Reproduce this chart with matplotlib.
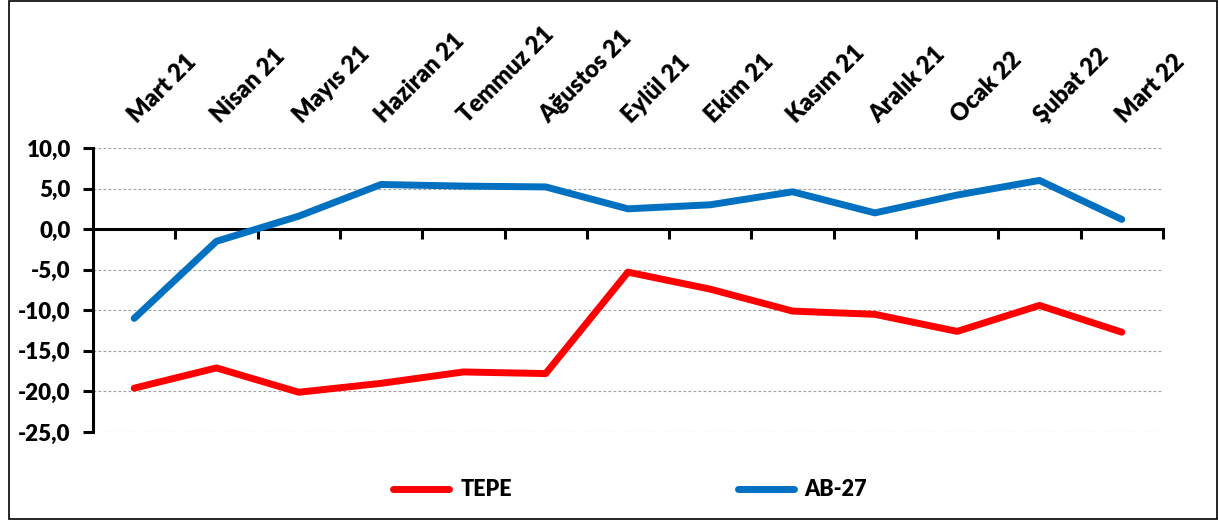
import matplotlib.pyplot as plt
from matplotlib.ticker import FuncFormatter, FixedLocator
from matplotlib.patches import Rectangle

plt.rcParams['font.family'] = ['Lato', 'DejaVu Sans']
plt.rcParams['font.weight'] = 'heavy'

months = ["Mart 21", "Nisan 21", "Mayıs 21", "Haziran 21", "Temmuz 21", "Ağustos 21",
          "Eylül 21", "Ekim 21", "Kasım 21", "Aralık 21", "Ocak 22", "Şubat 22", "Mart 22"]
tepe = [-19.6, -17.1, -20.1, -19.0, -17.6, -17.8, -5.3, -7.4, -10.1, -10.5, -12.6, -9.4, -12.7]
ab27 = [-11.0, -1.5, 1.6, 5.5, 5.3, 5.2, 2.5, 3.0, 4.6, 2.0, 4.2, 6.0, 1.2]

fig = plt.figure(figsize=(12.19, 5.21), dpi=100)
ax = fig.add_axes([0.0763, 0.1708, 0.954 - 0.0763, 0.716 - 0.1708])

x = list(range(len(months)))
ax.plot(x, tepe, color='#FF0000', lw=5, solid_capstyle='round', label='TEPE', zorder=3)
ax.plot(x, ab27, color='#0070C0', lw=5, solid_capstyle='round', label='AB-27', zorder=3)

ax.set_xlim(-0.5, len(months) - 0.5)
ax.set_ylim(-25, 10)
ax.set_yticks(range(-25, 11, 5))
ax.yaxis.set_major_formatter(FuncFormatter(lambda v, p: f"{v:.1f}".replace('.', ',')))
ax.tick_params(axis='y', direction='out', length=7, width=2.2, labelsize=16, pad=9)

ax.xaxis.set_major_locator(FixedLocator([i - 0.5 for i in range(len(months) + 1)]))
ax.set_xticklabels([])
ax.tick_params(axis='x', direction='out', length=7, width=2.2)

ax.spines['bottom'].set_position(('data', 0))
ax.spines['bottom'].set_linewidth(2.2)
ax.spines['left'].set_linewidth(2.2)
ax.spines['top'].set_visible(False)
ax.spines['right'].set_visible(False)
ax.yaxis.grid(True, linestyle=(0, (2.5, 2)), color='#a0a0a0', lw=0.8)

for i, m in enumerate(months):
    ax.text(i + 0.04, 1.085, m, transform=ax.get_xaxis_transform(), rotation=45,
            rotation_mode='anchor', ha='left', va='baseline', fontsize=17, fontweight='heavy')

fig.legend(loc='center', bbox_to_anchor=(0.517, 0.06), ncol=2, frameon=False,
           fontsize=15.5, handlelength=2.6, columnspacing=10.5, handletextpad=0.5)

fig.patches.append(Rectangle((0.007, 0.004), 0.991, 0.994, transform=fig.transFigure,
                             fill=False, edgecolor='black', lw=1.2))

fig.savefig('out.png', dpi=100)
